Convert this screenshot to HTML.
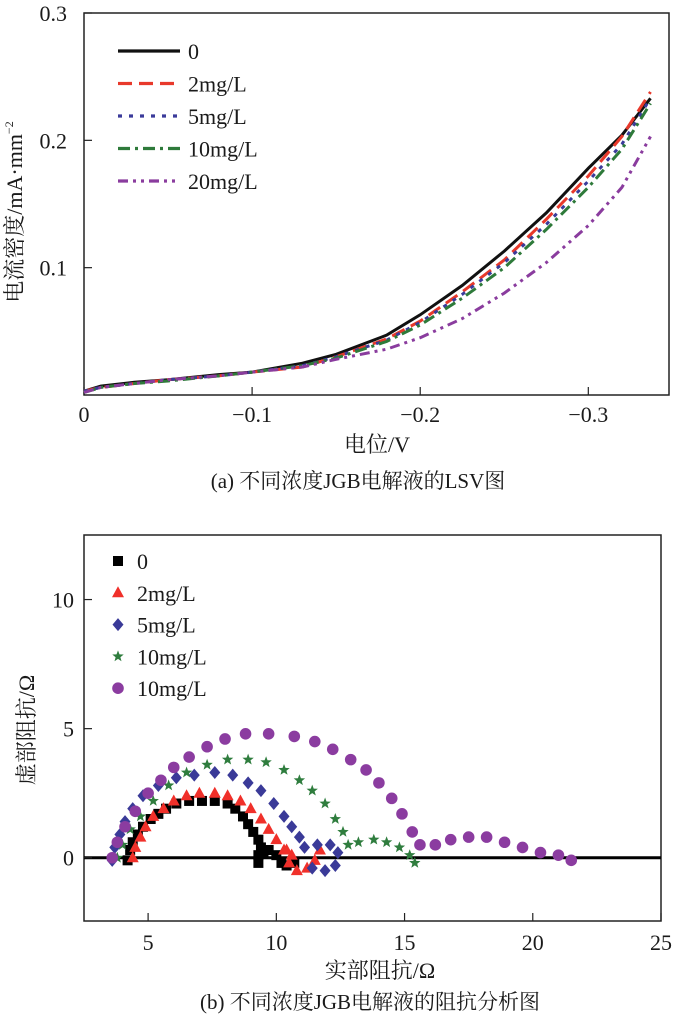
<!DOCTYPE html>
<html><head><meta charset="utf-8">
<style>
body{margin:0;background:#fff;}
svg{display:block;font-family:"Liberation Serif","Noto Serif CJK SC",serif;}
</style></head>
<body>
<svg id="fig" width="677" height="1019" viewBox="0 0 677 1019" xmlns="http://www.w3.org/2000/svg"></svg>
<script>
// ---- Chart (a) LSV data ----
const lsvX = [0,-0.01,-0.03,-0.05,-0.08,-0.1,-0.13,-0.15,-0.18,-0.2,-0.225,-0.25,-0.275,-0.3,-0.32,-0.337];
const lsv0  = [0.003,0.007,0.010,0.012,0.016,0.018,0.025,0.032,0.047,0.063,0.086,0.113,0.143,0.178,0.204,0.233];
const lsv2  = [0.003,0.006,0.009,0.012,0.015,0.018,0.022,0.030,0.044,0.058,0.081,0.106,0.138,0.172,0.203,0.238];
const lsv5  = [0.003,0.006,0.009,0.012,0.015,0.018,0.023,0.030,0.043,0.057,0.079,0.104,0.134,0.168,0.197,0.233];
const lsv10 = [0.002,0.006,0.009,0.011,0.015,0.018,0.023,0.029,0.042,0.055,0.076,0.100,0.130,0.163,0.193,0.229];
const lsv20 = [0.002,0.006,0.009,0.012,0.015,0.018,0.022,0.028,0.036,0.045,0.060,0.080,0.104,0.133,0.163,0.203];
const lsvNames = ["0","2mg/L","5mg/L","10mg/L","20mg/L"];
const lsvXTicks = [0,-0.1,-0.2,-0.3];
const lsvXTickLabels = ["0","\u22120.1","\u22120.2","\u22120.3"];
const lsvYTicks = [0.1,0.2,0.3];
const lsvYTickLabels = ["0.1","0.2","0.3"];

// ---- Chart (b) Nyquist data ----
const nyq0X = [4.2,4.3,4.4,4.6,4.8,5.1,5.4,5.7,6.1,6.6,7.1,7.6,8.1,8.4,8.7,8.9,9.1,9.3,9.4,9.3,9.3,9.5,9.7,10.0,10.2,10.4,10.7];
const nyq0Y = [-0.1,0.3,0.6,0.9,1.2,1.5,1.7,1.9,2.1,2.2,2.2,2.2,2.1,1.9,1.6,1.3,1.0,0.7,0.4,0.1,-0.2,0.2,0.3,0.1,-0.2,-0.3,-0.2];
const nyq2X = [4.4,4.5,4.7,4.9,5.2,5.6,6.0,6.5,7.0,7.6,8.1,8.6,9.0,9.4,9.7,10.0,10.3,10.6,10.4,10.5,10.8,11.2,11.5,11.7];
const nyq2Y = [0.0,0.4,0.8,1.2,1.6,1.9,2.2,2.4,2.5,2.5,2.4,2.2,1.9,1.5,1.1,0.7,0.3,0.1,0.3,-0.2,-0.5,-0.4,-0.1,0.3];
const nyq5X = [3.6,3.7,3.9,4.1,4.4,4.8,5.4,6.1,6.8,7.6,8.3,8.9,9.4,9.9,10.3,10.6,10.9,11.1,11.6,12.1,12.4,12.3,11.9,11.4];
const nyq5Y = [-0.1,0.4,0.9,1.4,1.9,2.4,2.8,3.1,3.2,3.3,3.2,2.9,2.6,2.1,1.6,1.2,0.8,0.4,0.5,0.5,0.2,-0.3,-0.5,-0.4];
const nyq10X = [3.8,4.0,4.3,4.7,5.2,5.8,6.5,7.3,8.1,8.9,9.6,10.3,10.9,11.4,11.9,12.3,12.6,12.8,13.2,13.8,14.3,14.8,15.2,15.4];
const nyq10Y = [0.0,0.5,1.1,1.6,2.2,2.8,3.3,3.6,3.8,3.8,3.7,3.4,3.0,2.6,2.1,1.5,1.0,0.5,0.6,0.7,0.6,0.4,0.1,-0.2];
const nyq20X = [3.6,3.8,4.1,4.5,5.0,5.5,6.0,6.6,7.3,8.0,8.8,9.7,10.7,11.5,12.2,12.9,13.5,14.0,14.5,14.9,15.3,15.6,16.2,16.8,17.5,18.2,18.9,19.6,20.3,21.0,21.5];
const nyq20Y = [0.0,0.6,1.2,1.8,2.5,3.0,3.5,3.9,4.3,4.6,4.8,4.8,4.7,4.5,4.2,3.8,3.4,2.9,2.3,1.7,1.0,0.5,0.5,0.7,0.8,0.8,0.6,0.4,0.2,0.1,-0.1];
const nyqNames = ["0","2mg/L","5mg/L","10mg/L","10mg/L"];
const nyqXTicks = [5,10,15,20,25];
const nyqXTickLabels = ["5","10","15","20","25"];
const nyqYTicks = [0,5,10];
const nyqYTickLabels = ["0","5","10"];

const NS = "http://www.w3.org/2000/svg";
const svg = document.getElementById('fig');
function mk(tag, attrs, parent){
  const e = document.createElementNS(NS, tag);
  for (const k in attrs) e.setAttribute(k, attrs[k]);
  (parent||svg).appendChild(e);
  return e;
}
function txt(s, x, y, size, anchor, parent){
  const t = mk('text', {x:x, y:y, 'font-size':size, 'text-anchor':anchor||'middle', fill:'#1a1a1a'}, parent);
  t.textContent = s;
  return t;
}

// ===== Chart A =====
const A = {l:84, r:669, t:13, b:395, x0:0, x1:-0.348, y0:0, y1:0.3};
const ax = v => A.l + (v - A.x0) / (A.x1 - A.x0) * (A.r - A.l);
const ay = v => A.b - (v - A.y0) / (A.y1 - A.y0) * (A.b - A.t);
const gA = mk('g', {});


const boxA = mk('rect', {x:A.l, y:A.t, width:A.r-A.l, height:A.b-A.t, fill:'none', stroke:'#222', 'stroke-width':1.5}, gA);


lsvXTicks.forEach((v,i)=>{
  mk('line',{x1:ax(v),x2:ax(v),y1:A.b,y2:A.b-8,stroke:'#222','stroke-width':1.2},gA);
  const t = txt(lsvXTickLabels[i], ax(v), 422, 22, 'middle', gA);
  
  
});
lsvYTicks.forEach((v,i)=>{
  mk('line',{x1:A.l,x2:A.l+8,y1:ay(v),y2:ay(v),stroke:'#222','stroke-width':1.2},gA);
  const t = txt(lsvYTickLabels[i], 67, ay(v)+8, 22, 'end', gA);
  
  
});
const lsvSeries = [lsv0, lsv2, lsv5, lsv10, lsv20];
const lsvColors = ['#111','#e8392b','#3b3b9a','#2e7a3a','#8a3c9e'];
const lsvDash = ['', '14 7', '4 7', '12 5 3 5', '10 5 3 5 3 5'];
lsvSeries.forEach((ys, s)=>{
  const d = ys.map((y,i)=>(i?'L':'M')+ax(lsvX[i]).toFixed(1)+','+ay(y).toFixed(1)).join(' ');
  const p = mk('path',{d:d, fill:'none', stroke:lsvColors[s], 'stroke-width':3, 'stroke-dasharray':lsvDash[s]}, gA);
  
  
  const ly = 51 + s*32.5;
  const ll = mk('line',{x1:118,x2:180,y1:ly,y2:ly,stroke:lsvColors[s],'stroke-width':3.2,'stroke-dasharray':lsvDash[s]},gA);
  
  
  const lt = txt(lsvNames[s], 188, ly+8, 22, 'start', gA);
  
  
});
const xtA = txt('电位/V', 377, 452, 22, 'middle', gA);


const ytA = txt('电流密度/mA·mm', 0, 0, 22, 'middle', gA);
ytA.setAttribute('transform','translate(22,212) rotate(-90)');
const sup = mk('tspan',{'font-size':12, dy:-9}, ytA); sup.textContent='−2';


const capA = txt('(a) 不同浓度JGB电解液的LSV图', 358, 488, 21, 'middle', gA);



// ===== Chart B =====
const B = {l:84, r:661, t:535, b:921, x0:2.5, x1:25, y0:-2.45, y1:12.5};
const bx = v => B.l + (v - B.x0) / (B.x1 - B.x0) * (B.r - B.l);
const by = v => B.b - (v - B.y0) / (B.y1 - B.y0) * (B.b - B.t);
const gB = mk('g', {});


const boxB = mk('rect', {x:B.l, y:B.t, width:B.r-B.l, height:B.b-B.t, fill:'none', stroke:'#222', 'stroke-width':1.5}, gB);


const zl = mk('line',{x1:B.l,x2:B.r,y1:by(0),y2:by(0),stroke:'#000','stroke-width':3},gB);


nyqXTicks.forEach((v,i)=>{
  mk('line',{x1:bx(v),x2:bx(v),y1:B.b,y2:B.b-8,stroke:'#222','stroke-width':1.2},gB);
  const t = txt(nyqXTickLabels[i], bx(v), 950, 22, 'middle', gB);
  
  
});
nyqYTicks.forEach((v,i)=>{
  mk('line',{x1:B.l,x2:B.l+8,y1:by(v),y2:by(v),stroke:'#222','stroke-width':1.2},gB);
  const t = txt(nyqYTickLabels[i], 74, by(v)+8, 22, 'end', gB);
  
  
});
const nyqXs = [nyq0X, nyq2X, nyq5X, nyq10X, nyq20X];
const nyqYs = [nyq0Y, nyq2Y, nyq5Y, nyq10Y, nyq20Y];
const nyqColors = ['#000','#f0302a','#3a3a98','#2f7d3e','#8b3ca0'];
function marker(type, x, y, c, g){
  if (type==0) return mk('rect',{x:x-5,y:y-5,width:10,height:10,fill:c},g);
  if (type==1) return mk('polygon',{points:`${x},${y-6.5} ${x+6},${y+4.5} ${x-6},${y+4.5}`,fill:c},g);
  if (type==2) return mk('polygon',{points:`${x},${y-6.5} ${x+5.5},${y} ${x},${y+6.5} ${x-5.5},${y}`,fill:c},g);
  if (type==3){
    let pts=[];
    for(let k=0;k<10;k++){const r=k%2?2.5:6;const a=-Math.PI/2+k*Math.PI/5;pts.push((x+r*Math.cos(a)).toFixed(1)+','+(y+r*Math.sin(a)).toFixed(1));}
    return mk('polygon',{points:pts.join(' '),fill:c},g);
  }
  return mk('circle',{cx:x,cy:y,r:5.8,fill:c},g);
}
nyqXs.forEach((xs, s)=>{
  const g = mk('g',{},gB);
  
  
  xs.forEach((xv,i)=>{
    const m = marker(s, bx(xv), by(nyqYs[s][i]), nyqColors[s], g);
    
    
  });
  const ly = 561 + s*31.8;
  const lm = marker(s, 118, ly, nyqColors[s], gB);
  
  
  const lt = txt(nyqNames[s], 137, ly+8, 22, 'start', gB);
  
  
});
const xtB = txt('实部阻抗/Ω', 380, 978, 22, 'middle', gB);


const ytB = txt('虚部阻抗/Ω', 0, 0, 22, 'middle', gB);
ytB.setAttribute('transform','translate(34,730) rotate(-90)');


const capB = txt('(b) 不同浓度JGB电解液的阻抗分析图', 370, 1009, 21, 'middle', gB);


</script>
</body></html>
